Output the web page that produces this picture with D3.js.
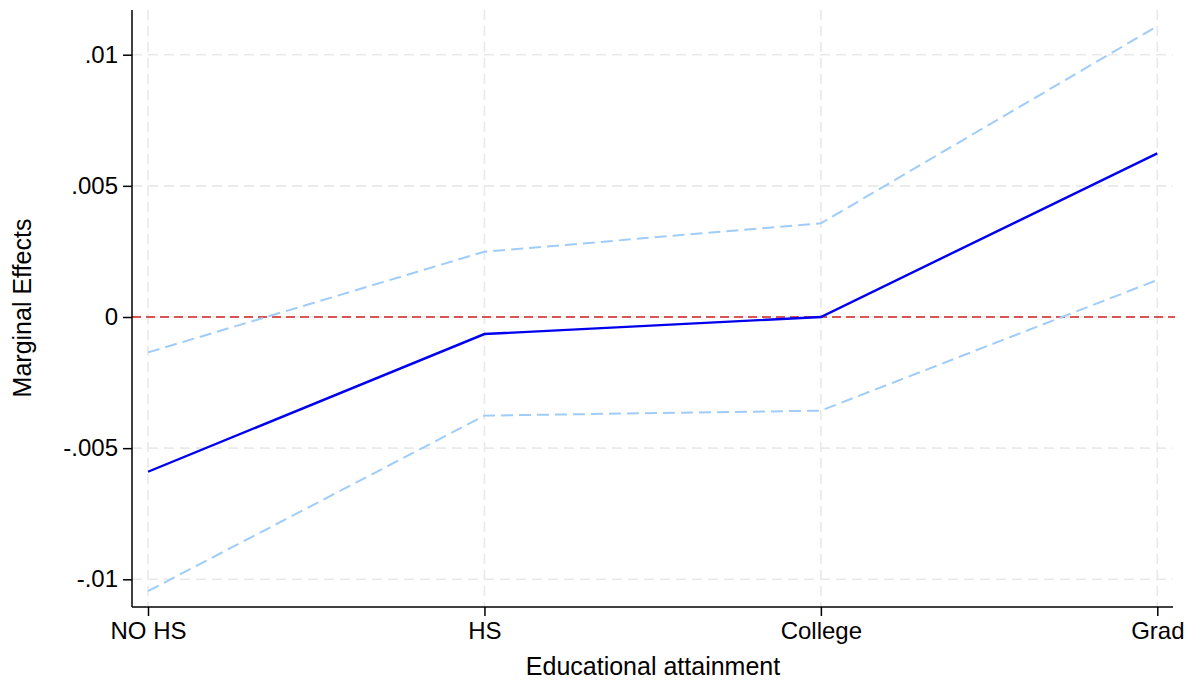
<!DOCTYPE html>
<html>
<head>
<meta charset="utf-8">
<script src="https://cdn.jsdelivr.net/npm/d3@7"></script>
<style>
  html, body { margin: 0; padding: 0; background: #ffffff; }
  svg { display: block; font-family: "Liberation Sans", Arial, Helvetica, sans-serif; }
</style>
</head>
<body>
<svg id="chart" width="1192" height="680"></svg>
<script>
// Educational attainment categories and marginal effects with 95% bounds
const categories = ["NO HS", "HS", "College", "Grad"];
const effect = [-0.0059, -0.00065, 0.0, 0.00624];
const upper = [-0.00135, 0.00249, 0.00357, 0.01109];
const lower = [-0.01045, -0.00376, -0.00357, 0.00141];
const yTicks = [-0.01, -0.005, 0, 0.005, 0.01];
const yTickLabels = ["-.01", "-.005", "0", ".005", ".01"];

const svg = d3.select("#chart");

const plot = { left: 132, right: 1173, top: 10, bottom: 607 };

const x = d3.scalePoint()
  .domain(categories)
  .range([148, 1157.3]);

const y = d3.scaleLinear()
  .domain([-0.01, 0.01])
  .range([579.3, 54.7]);

// grid
const grid = svg.append("g").attr("stroke", "#e9e9e9").attr("stroke-width", 1.6)
  .attr("stroke-dasharray", "10,6").attr("fill", "none");
grid.selectAll("line.h").data(yTicks).join("line")
  .attr("x1", plot.left).attr("x2", plot.right)
  .attr("y1", d => y(d)).attr("y2", d => y(d));
grid.selectAll("line.v").data(categories).join("line")
  .attr("x1", d => x(d)).attr("x2", d => x(d))
  .attr("y1", plot.top).attr("y2", plot.bottom);

// zero reference line
svg.append("line")
  .attr("x1", plot.left).attr("x2", plot.right + 2)
  .attr("y1", y(0)).attr("y2", y(0))
  .attr("stroke", "#d42020").attr("stroke-width", 1.4)
  .attr("stroke-dasharray", "9,5");

const line = d3.line()
  .x((d, i) => x(categories[i]))
  .y(d => y(d));

// confidence bounds
[upper, lower].forEach(s => {
  svg.append("path").datum(s)
    .attr("d", line)
    .attr("fill", "none")
    .attr("stroke", "#a0ccf8")
    .attr("stroke-width", 2)
    .attr("stroke-dasharray", "12,6");
});

// point estimate
svg.append("path").datum(effect)
  .attr("d", line)
  .attr("fill", "none")
  .attr("stroke", "#0000ee")
  .attr("stroke-width", 2.4);

// axes
const yAxis = d3.axisLeft(y)
  .tickValues(yTicks)
  .tickFormat((d, i) => yTickLabels[i])
  .tickSize(9).tickPadding(5).tickSizeOuter(0);
const gy = svg.append("g").attr("transform", `translate(${plot.left},0)`).call(yAxis);
gy.select(".domain").attr("d", `M0,${plot.top}V${plot.bottom}`);

const xAxis = d3.axisBottom(x).tickSize(9).tickPadding(6).tickSizeOuter(0);
const gx = svg.append("g").attr("transform", `translate(0,${plot.bottom})`).call(xAxis);
gx.select(".domain").attr("d", `M${plot.left},0H${plot.right}`);

[gx, gy].forEach(g => {
  g.selectAll(".domain").attr("stroke", "#000").attr("stroke-width", 1.5);
  g.selectAll(".tick line").attr("stroke", "#000").attr("stroke-width", 1.5);
  g.selectAll(".tick text").attr("fill", "#000").style("font-size", "24px")
    .style("font-family", "'Liberation Sans', Arial, sans-serif");
});

// axis titles
svg.append("text")
  .attr("x", 653).attr("y", 675)
  .attr("text-anchor", "middle")
  .style("font-size", "25px")
  .text("Educational attainment");

svg.append("text")
  .attr("transform", "translate(31,308) rotate(-90)")
  .attr("text-anchor", "middle")
  .style("font-size", "25px")
  .text("Marginal Effects");
</script>
</body>
</html>
